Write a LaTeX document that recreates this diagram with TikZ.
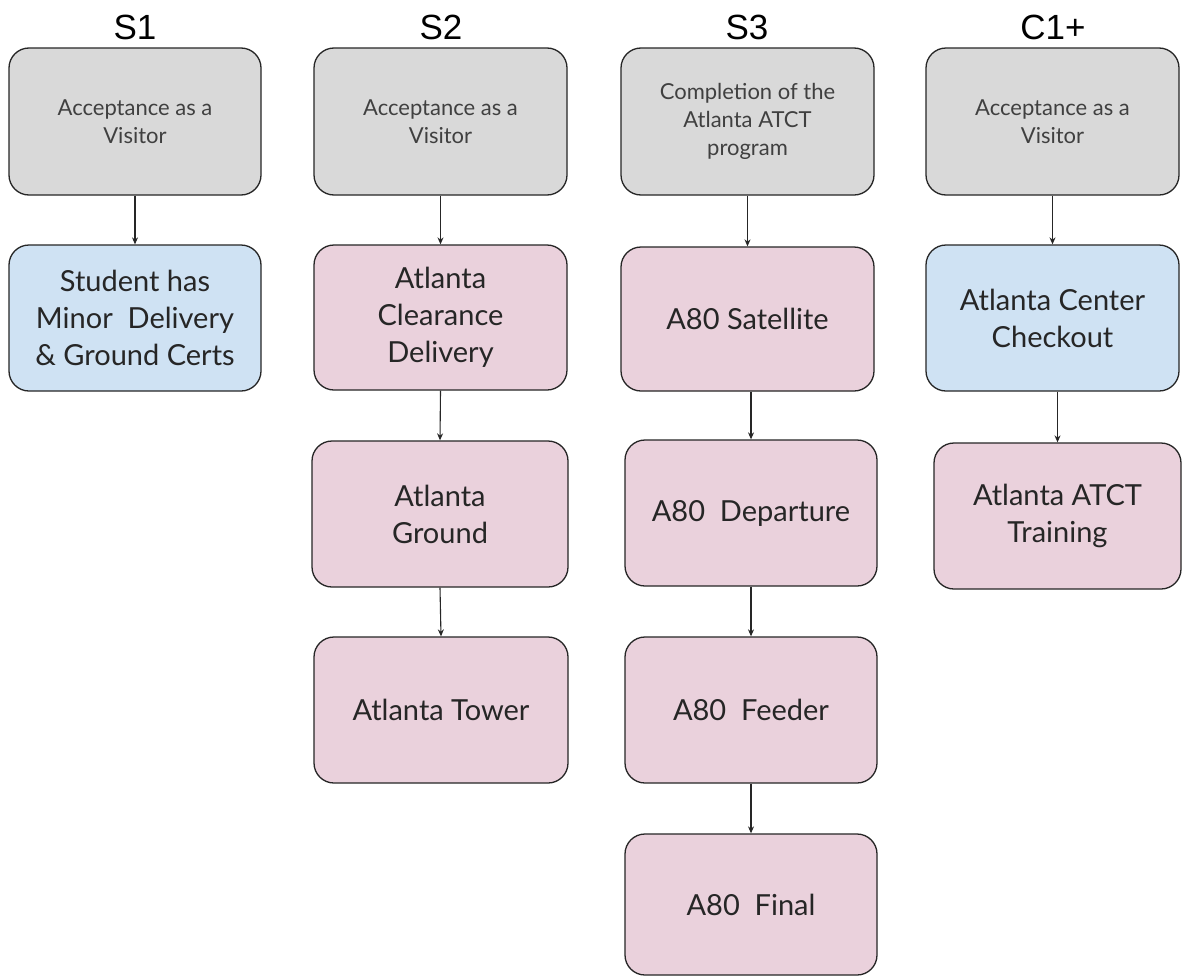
\documentclass[tikz,border=0pt]{standalone}
\usepackage{fontspec}
\setmainfont{Lato}
\newfontfamily\hdrfont{Liberation Sans}
\usetikzlibrary{arrows.meta}
\definecolor{boxgray}{HTML}{D9D9D9}
\definecolor{boxblue}{HTML}{CFE2F3}
\definecolor{boxpink}{HTML}{EAD1DC}
\definecolor{txtgray}{HTML}{404040}
\definecolor{txtdark}{HTML}{262626}
\tikzset{
  base/.style={draw=black!85, line width=1.3pt, rounded corners=20pt, inner sep=0pt, align=center},
  graybox/.style={base, fill=boxgray, text=txtgray, font=\fontsize{22}{28}\selectfont},
  bluebox/.style={base, fill=boxblue, text=txtdark, font=\fontsize{29}{37}\selectfont},
  pinkbox/.style={base, fill=boxpink, text=txtdark, font=\fontsize{29}{37}\selectfont},
  hdr/.style={font=\hdrfont\fontsize{35}{40}\selectfont, text=black, inner sep=0pt},
  arr/.style={draw=black!85, line width=1.1pt, -{Stealth[length=7pt,width=6pt]}},
}
\newcommand{\bx}[7]{% style, name, x1, y1, x2, y2, text
  \node[#1, minimum width={(#5-#3)*1pt}, minimum height={(#6-#4)*1pt}] (#2) at ({(#3+#5)/2},{(#4+#6)/2}) {#7};}
\begin{document}
\begin{tikzpicture}[x=1pt,y=-1pt]
\path[use as bounding box, fill=white] (0,0) rectangle (1182,977);
% headers
\node[hdr] (h1) at (135,27) {S1};
\node[hdr] (h2) at (441,27) {S2};
\node[hdr] (h3) at (747,27) {S3};
\node[hdr] (h4) at (1053,27) {C1+};
% S1
\bx{graybox}{g1}{9}{48}{261}{195}{Acceptance as a\\Visitor}
\bx{bluebox}{s1a}{9}{245}{261}{391}{Student has\\Minor\ \ Delivery\\\& Ground Certs}
% S2
\bx{graybox}{g2}{314}{48}{567}{195}{Acceptance as a\\Visitor}
\bx{pinkbox}{s2a}{314}{245}{567}{390}{Atlanta\\Clearance\\Delivery}
\bx{pinkbox}{s2b}{312}{441}{568}{587}{Atlanta\\Ground}
\bx{pinkbox}{s2c}{314}{637}{568}{783}{Atlanta Tower}
% S3
\bx{graybox}{g3}{621}{48}{874}{195}{Completion of the\\Atlanta ATCT\\program}
\bx{pinkbox}{s3a}{621}{247}{874}{391}{A80 Satellite}
\bx{pinkbox}{s3b}{625}{440}{877}{586}{A80\ \ Departure}
\bx{pinkbox}{s3c}{625}{637}{877}{783}{A80\ \ Feeder}
\bx{pinkbox}{s3d}{625}{834}{877}{975}{A80\ \ Final}
% C1+
\bx{graybox}{g4}{926}{48}{1179}{195}{Acceptance as a\\Visitor}
\bx{bluebox}{c1a}{926}{245}{1179}{391}{Atlanta Center\\Checkout}
\bx{pinkbox}{c1b}{934}{443}{1181}{589}{Atlanta ATCT\\Training}
% arrows
\draw[arr] (g1.south) -- (s1a.north);
\draw[arr] (g2.south) -- (s2a.north);
\draw[arr] (s2a.south) -- (s2b.north);
\draw[arr] (s2b.south) -- (s2c.north);
\draw[arr] (g3.south) -- (s3a.north);
\draw[arr] (s3b.north |- s3a.south) -- (s3b.north);
\draw[arr] (s3b.south) -- (s3c.north);
\draw[arr] (s3c.south) -- (s3d.north);
\draw[arr] (g4.south) -- (c1a.north);
\draw[arr] (c1b.north |- c1a.south) -- (c1b.north);
\end{tikzpicture}
\end{document}
